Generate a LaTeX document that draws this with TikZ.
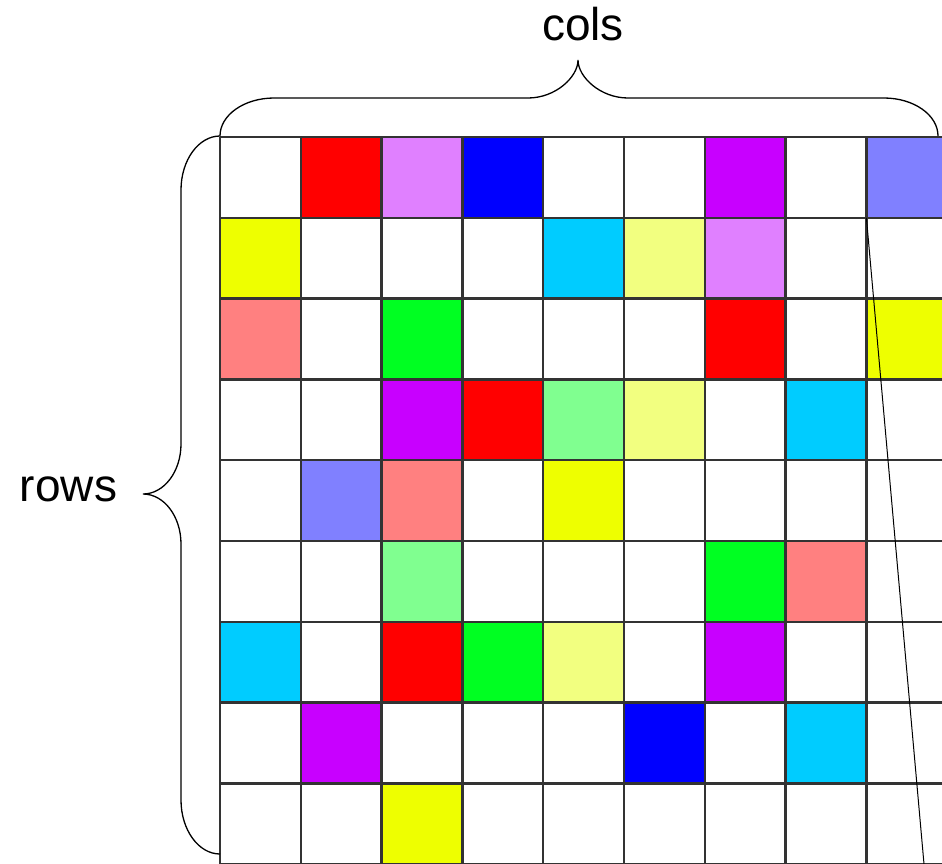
\documentclass[tikz,border=0pt]{standalone}
\usepackage{fontspec}
\setmainfont{Liberation Sans}
\definecolor{cRed}{HTML}{FF0000}
\definecolor{cViolet}{HTML}{E080FF}
\definecolor{cBlue}{HTML}{0000FF}
\definecolor{cPurple}{HTML}{C800FF}
\definecolor{cSlate}{HTML}{8080FF}
\definecolor{cYellow}{HTML}{EEFF00}
\definecolor{cCyan}{HTML}{00CCFF}
\definecolor{cLYellow}{HTML}{F2FF80}
\definecolor{cSalmon}{HTML}{FF8080}
\definecolor{cGreen}{HTML}{00FF22}
\definecolor{cLGreen}{HTML}{80FF90}
\begin{document}
\begin{tikzpicture}[x=1pt,y=-1pt,
  gridline/.style={draw=black!80,line width=2.4pt},
  bracepath/.style={draw=black,line width=1.3pt},
  thinline/.style={draw=black,line width=1pt},
  lbl/.style={font=\fontsize{46}{55}\selectfont,anchor=base,inner sep=0pt}]
\useasboundingbox (0,0) rectangle (942,863);
\begin{scope}
\clip (0,0) rectangle (942,863);
\foreach \r/\c/\col in {
  0/1/cRed,0/2/cViolet,0/3/cBlue,0/6/cPurple,0/8/cSlate,
  1/0/cYellow,1/4/cCyan,1/5/cLYellow,1/6/cViolet,
  2/0/cSalmon,2/2/cGreen,2/6/cRed,2/8/cYellow,
  3/2/cPurple,3/3/cRed,3/4/cLGreen,3/5/cLYellow,3/7/cCyan,
  4/1/cSlate,4/2/cSalmon,4/4/cYellow,
  5/2/cLGreen,5/6/cGreen,5/7/cSalmon,
  6/0/cCyan,6/2/cRed,6/3/cGreen,6/4/cLYellow,6/6/cPurple,
  7/1/cPurple,7/5/cBlue,7/7/cCyan,
  8/2/cYellow}
  \fill[\col] (220+\c*80.8,137+\r*80.8) rectangle ++(80.8,80.8);
\foreach \i in {0,...,9} {
  \draw[gridline] (220+\i*80.8,137) -- (220+\i*80.8,880);
  \draw[gridline] (220,137+\i*80.8) -- (960,137+\i*80.8);
}
\coordinate (ls) at (866.4,217.8);
\coordinate (le) at (927.2,900);
\draw[thinline] (ls) -- (le);
\end{scope}
% top brace
\coordinate (tA) at (220,136);
\coordinate (tB) at (274,98);
\coordinate (tC) at (528,98);
\coordinate (tT) at (578,60);
\coordinate (tD) at (628,98);
\coordinate (tE) at (884,98);
\coordinate (tF) at (938,136);
\draw[bracepath] (tA) .. controls (220,115) and (244.2,98) .. (tB)
  -- (tC) .. controls (555.6,98) and (578,77) .. (tT)
  .. controls (578,77) and (600.4,98) .. (tD)
  -- (tE) .. controls (913.8,98) and (938,115) .. (tF);
% left brace
\coordinate (lA) at (220,136);
\coordinate (lB) at (181,190);
\coordinate (lC) at (181,444);
\coordinate (lT) at (143,494);
\coordinate (lD) at (181,544);
\coordinate (lE) at (181,800);
\coordinate (lF) at (220,854);
\draw[bracepath] (lA) .. controls (198.5,136) and (181,160.2) .. (lB)
  -- (lC) .. controls (181,471.6) and (164,494) .. (lT)
  .. controls (164,494) and (181,516.4) .. (lD)
  -- (lE) .. controls (181,829.8) and (198.5,854) .. (lF);
\node[lbl] (cols) at (583,40) {cols};
\node[lbl] (rows) at (68.5,501.7) {rows};
\end{tikzpicture}
\end{document}
